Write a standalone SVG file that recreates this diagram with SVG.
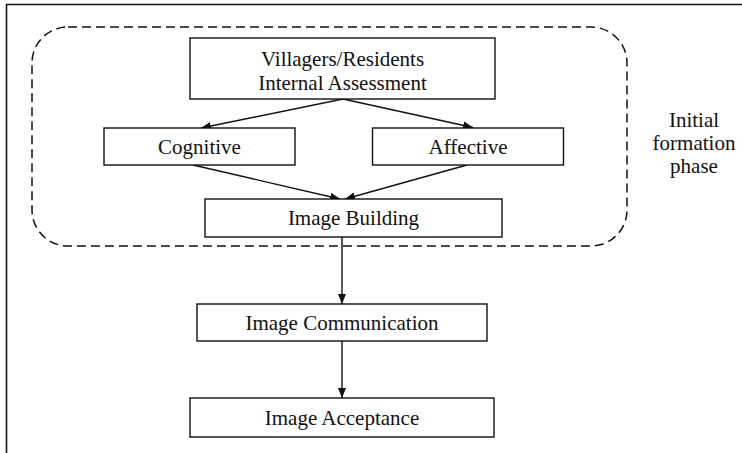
<svg xmlns="http://www.w3.org/2000/svg" width="742" height="453" viewBox="0 0 742 453">
<style>
.box{fill:#fff;stroke:#111;stroke-width:1.4}
.t{font-family:"Liberation Serif","Times New Roman",serif;font-size:21px;fill:#111;text-anchor:middle}
.c{stroke:#111;stroke-width:1.4;fill:none}
.frame{stroke:#111;stroke-width:1.6;fill:none}
.phase{fill:none;stroke:#111;stroke-width:1.5;stroke-dasharray:9 5}
</style>
<defs>
<marker id="ah" viewBox="0 0 10 10" refX="10" refY="5" markerWidth="10" markerHeight="10" markerUnits="userSpaceOnUse" orient="auto">
<path d="M0,1 L10,5 L0,9 Z" fill="#111"/>
</marker>
</defs>
<rect width="742" height="453" fill="#fff"/>
<path class="frame" d="M6.5,453 L6.5,4.5 L742,4.5"/>
<g id="phase-group">
<rect class="phase" x="32" y="27" width="595" height="219" rx="36" ry="36"/>
<text class="t" x="694" y="127">Initial</text>
<text class="t" x="694" y="150">formation</text>
<text class="t" x="694" y="173">phase</text>
</g>
<g id="connectors">
<line class="c" x1="343" y1="99" x2="201" y2="128" marker-end="url(#ah)"/>
<line class="c" x1="343" y1="99" x2="473" y2="127.5" marker-end="url(#ah)"/>
<line class="c" x1="193" y1="165" x2="340" y2="199" marker-end="url(#ah)"/>
<line class="c" x1="467" y1="165" x2="345" y2="199" marker-end="url(#ah)"/>
<line class="c" x1="342" y1="237" x2="342" y2="304" marker-end="url(#ah)"/>
<line class="c" x1="342" y1="341" x2="342" y2="398" marker-end="url(#ah)"/>
</g>
<g id="villagers">
<rect class="box" x="190" y="38" width="305" height="61"/>
<text class="t" x="342.5" y="66">Villagers/Residents</text>
<text class="t" x="342.5" y="90">Internal Assessment</text>
</g>
<g id="cognitive">
<rect class="box" x="104" y="128" width="191" height="37"/>
<text class="t" x="199.5" y="154">Cognitive</text>
</g>
<g id="affective">
<rect class="box" x="372.5" y="128" width="191" height="37"/>
<text class="t" x="468" y="154">Affective</text>
</g>
<g id="image-building">
<rect class="box" x="205" y="199" width="297" height="38"/>
<text class="t" x="353.5" y="225">Image Building</text>
</g>
<g id="image-communication">
<rect class="box" x="197" y="304" width="290" height="37"/>
<text class="t" x="342" y="330">Image Communication</text>
</g>
<g id="image-acceptance">
<rect class="box" x="190" y="398" width="304" height="39"/>
<text class="t" x="342" y="425">Image Acceptance</text>
</g>
</svg>
